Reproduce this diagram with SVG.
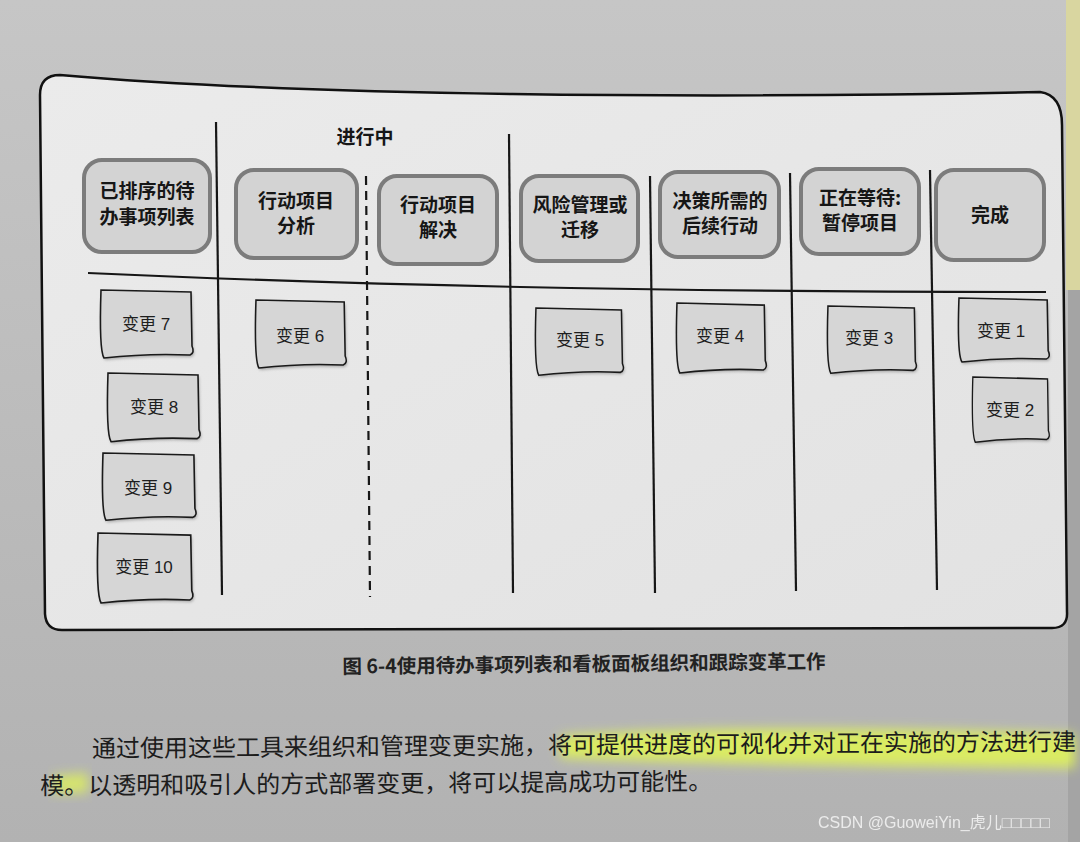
<svg xmlns="http://www.w3.org/2000/svg" width="1080" height="842" viewBox="0 0 1080 842">
<defs>
<linearGradient id="page" x1="0" y1="0" x2="0" y2="1">
<stop offset="0" stop-color="#c6c6c6"/>
<stop offset="0.5" stop-color="#bcbcbc"/>
<stop offset="1" stop-color="#b2b2b2"/>
</linearGradient>
<linearGradient id="board" x1="0" y1="0" x2="1" y2="1">
<stop offset="0" stop-color="#ebebeb"/>
<stop offset="1" stop-color="#e2e2e2"/>
</linearGradient>
<filter id="blur" x="-10%" y="-50%" width="120%" height="200%"><feGaussianBlur stdDeviation="6"/></filter>
<filter id="soft" x="-10%" y="-10%" width="120%" height="130%"><feGaussianBlur stdDeviation="1.5"/></filter>
<path id="sticky" d="M1,0 L91,2 L92,56 Q95,63 90,65 Q48,63 4,68 Q-1,60 1,0 Z"/>
</defs>
<style>
.node{fill:#d3d3d3;stroke:#7c7c7c;stroke-width:4}
.nt{font-family:"Noto Sans CJK SC","Noto Sans",sans-serif;font-size:19px;font-weight:bold;fill:#161616;text-anchor:middle}
.st{fill:#d6d6d6;stroke:#1a1a1a;stroke-width:1.6}
.sh{fill:#7a7a7a;opacity:.6}
.stt{font-family:"Liberation Sans","Noto Sans CJK SC",sans-serif;font-size:17px;fill:#1e1e1e;text-anchor:middle}
.lane{stroke:#161616;stroke-width:2.2;fill:none}
.body{font-family:"Noto Sans CJK SC","Noto Sans",sans-serif;font-size:24px;fill:#1c1c1c}
</style>
<rect width="1080" height="842" fill="url(#page)"/>
<rect x="1066" y="0" width="14" height="290" fill="#d9d6a0"/>
<rect x="1068" y="290" width="12" height="552" fill="#a4a4a4"/>

<g id="board-frame">
<path d="M40,95 Q40,75 60,75 C300,96 700,99 1040,92 Q1062,95 1062,125 L1067,612 Q1068,628 1052,628 L62,630 Q46,630 45,614 Z" fill="url(#board)" stroke="#111" stroke-width="2.5"/>
</g>

<g id="lanes">
<path class="lane" d="M216,122 L222,595"/>
<path class="lane" d="M366,176 L370,597" stroke-dasharray="9,6"/>
<path class="lane" d="M509,134 L513,593"/>
<path class="lane" d="M650,176 L655,593"/>
<path class="lane" d="M790,173 L796,591"/>
<path class="lane" d="M930,170 L937,590"/>
<path class="lane" d="M88,273 Q500,292 1046,292"/>
</g>

<g id="header-in-progress">
<text x="365" y="144" class="nt" font-size="21">进行中</text>
</g>

<g id="node-backlog">
<rect class="node" x="84" y="160" width="126" height="92" rx="18"/>
<text class="nt" x="147" y="198">已排序的待</text>
<text class="nt" x="147" y="224">办事项列表</text>
</g>
<g id="node-analysis">
<rect class="node" x="236" y="170" width="121" height="88" rx="18"/>
<text class="nt" x="296" y="208">行动项目</text>
<text class="nt" x="296" y="233">分析</text>
</g>
<g id="node-resolve">
<rect class="node" x="379" y="176" width="118" height="88" rx="18"/>
<text class="nt" x="438" y="212">行动项目</text>
<text class="nt" x="438" y="237">解决</text>
</g>
<g id="node-risk">
<rect class="node" x="521" y="176" width="117" height="85" rx="18"/>
<text class="nt" x="580" y="212">风险管理或</text>
<text class="nt" x="580" y="237">迁移</text>
</g>
<g id="node-decision">
<rect class="node" x="660" y="172" width="119" height="85" rx="18"/>
<text class="nt" x="720" y="208">决策所需的</text>
<text class="nt" x="720" y="233">后续行动</text>
</g>
<g id="node-waiting">
<rect class="node" x="801" y="169" width="118" height="85" rx="18"/>
<text class="nt" x="860" y="205">正在等待:</text>
<text class="nt" x="860" y="230">暂停项目</text>
</g>
<g id="node-done">
<rect class="node" x="936" y="170" width="108" height="90" rx="18"/>
<text class="nt" x="990" y="222">完成</text>
</g>

<g id="sticky-7">
<use href="#sticky" class="sh" transform="translate(101,292)" filter="url(#soft)"/>
<use href="#sticky" class="st" transform="translate(100,290)"/>
<text class="stt" x="146" y="330">变更 7</text>
</g>
<g id="sticky-6">
<use href="#sticky" class="sh" transform="translate(256,302) scale(0.98,1)" filter="url(#soft)"/>
<use href="#sticky" class="st" transform="translate(255,300) scale(0.98,1)"/>
<text class="stt" x="300" y="342">变更 6</text>
</g>
<g id="sticky-5">
<use href="#sticky" class="sh" transform="translate(536,310) scale(0.95,0.99)" filter="url(#soft)"/>
<use href="#sticky" class="st" transform="translate(535,308) scale(0.95,0.99)"/>
<text class="stt" x="580" y="346">变更 5</text>
</g>
<g id="sticky-4">
<use href="#sticky" class="sh" transform="translate(677,305) scale(0.97,1.03)" filter="url(#soft)"/>
<use href="#sticky" class="st" transform="translate(676,303) scale(0.97,1.03)"/>
<text class="stt" x="720" y="342">变更 4</text>
</g>
<g id="sticky-3">
<use href="#sticky" class="sh" transform="translate(828,308) scale(0.96,0.99)" filter="url(#soft)"/>
<use href="#sticky" class="st" transform="translate(827,306) scale(0.96,0.99)"/>
<text class="stt" x="869" y="344">变更 3</text>
</g>
<g id="sticky-1">
<use href="#sticky" class="sh" transform="translate(959,300) scale(0.98,0.94)" filter="url(#soft)"/>
<use href="#sticky" class="st" transform="translate(958,298) scale(0.98,0.94)"/>
<text class="stt" x="1001" y="337">变更 1</text>
</g>
<g id="sticky-2">
<use href="#sticky" class="sh" transform="translate(973,379) scale(0.83,0.96)" filter="url(#soft)"/>
<use href="#sticky" class="st" transform="translate(972,377) scale(0.83,0.96)"/>
<text class="stt" x="1010" y="416">变更 2</text>
</g>
<g id="sticky-8">
<use href="#sticky" class="sh" transform="translate(108,375) scale(1,1.01)" filter="url(#soft)"/>
<use href="#sticky" class="st" transform="translate(107,373) scale(1,1.01)"/>
<text class="stt" x="154" y="413">变更 8</text>
</g>
<g id="sticky-9">
<use href="#sticky" class="sh" transform="translate(103,455) scale(1.01,0.99)" filter="url(#soft)"/>
<use href="#sticky" class="st" transform="translate(102,453) scale(1.01,0.99)"/>
<text class="stt" x="148" y="494">变更 9</text>
</g>
<g id="sticky-10">
<use href="#sticky" class="sh" transform="translate(98,535) scale(1.03,1.03)" filter="url(#soft)"/>
<use href="#sticky" class="st" transform="translate(97,533) scale(1.03,1.03)"/>
<text class="stt" x="144" y="573">变更 10</text>
</g>

<g id="caption">
<text x="584" y="671" transform="rotate(-0.6 584 665)" font-family="'Noto Sans CJK SC',sans-serif" font-size="19.5" font-weight="bold" fill="#222" text-anchor="middle">图 6-4使用待办事项列表和看板面板组织和跟踪变革工作</text>
</g>

<g id="highlight">
<path d="M560,736 C700,726 900,728 1075,734 L1075,768 C900,766 700,764 560,758 Z" fill="#dff25a" opacity="0.9" filter="url(#blur)"/>
<path d="M52,776 L88,773 L88,793 L52,793 Z" fill="#dff25a" opacity="0.8" filter="url(#blur)"/>
</g>

<g id="paragraph" transform="rotate(-0.4 540 765)">
<text class="body" x="92" y="754">通过使用这些工具来组织和管理变更实施，将可提供进度的可视化并对正在实施的方法进行建</text>
<text class="body" x="40" y="791">模。以透明和吸引人的方式部署变更，将可以提高成功可能性。</text>
</g>

<g id="watermark">
<text x="818" y="828" font-family="'Liberation Sans','Noto Sans CJK SC',sans-serif" font-size="16" fill="#f2f2f2" opacity="0.9">CSDN @GuoweiYin_虎儿□□□□□</text>
</g>
</svg>
